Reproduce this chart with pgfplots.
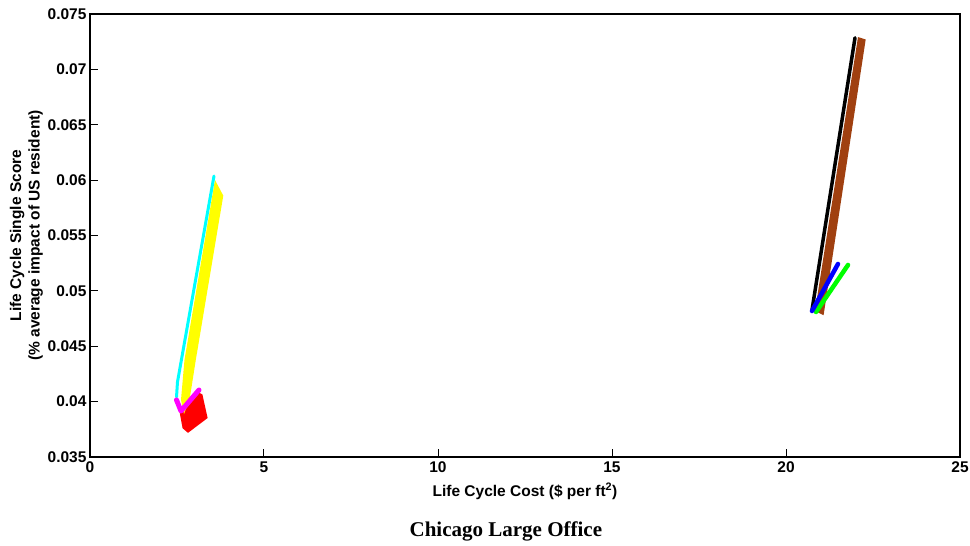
\documentclass[border=0pt]{standalone}
\usepackage{pgfplots}
\pgfplotsset{compat=1.18}
\usepackage{fontspec}
\setmainfont{Liberation Sans}
\newfontfamily\titlefont{Liberation Serif}

\definecolor{lcbrown}{RGB}{160,64,16}
\definecolor{lccyan}{RGB}{0,255,255}
\definecolor{lcyellow}{RGB}{255,255,0}
\definecolor{lcmagenta}{RGB}{255,0,255}
\definecolor{lcred}{RGB}{255,0,0}
\definecolor{lcgreen}{RGB}{0,255,0}
\definecolor{lcblue}{RGB}{0,0,255}

\begin{document}
\begin{tikzpicture}
\begin{axis}[
  at={(0,0)}, anchor=south west,
  scale only axis, width=870pt, height=443pt,
  xmin=0, xmax=25, ymin=0.035, ymax=0.075,
  xtick={0,5,10,15,20,25},
  ytick={0.035,0.04,0.045,0.05,0.055,0.06,0.065,0.07,0.075},
  yticklabels={0.035,0.04,0.045,0.05,0.055,0.06,0.065,0.07,0.075},
  scaled y ticks=false, scaled x ticks=false,
  tick pos=left, tick align=inside, major tick length=8pt,
  axis line style={line width=1.2pt},
  every tick/.style={black, line width=1pt},
  /pgf/number format/assume math mode=true,
  ticklabel style={font=\bfseries\fontsize{15.5}{18}\selectfont},
  xticklabel style={yshift=-1pt},
  label style={font=\bfseries\fontsize{15.5}{18.5}\selectfont},
  xlabel={Life Cycle Cost (\$ per ft\textsuperscript{2})},
  xlabel style={yshift=-4pt},
  ylabel={Life Cycle Single Score\\(\% average impact of US resident)},
  ylabel style={align=center, yshift=-2pt},
  clip=false,
]
% low-cost group
\addplot[fill=lcred, draw=none] coordinates {
  (2.560,0.03930) (2.660,0.03760) (2.816,0.03718) (3.380,0.03852)
  (3.230,0.04065) (3.103,0.04085) (2.560,0.03930)};
\addplot[fill=lcyellow, draw=none] coordinates {
  (3.592,0.06001) (3.83,0.05860) (3.04,0.04376) (2.86,0.04015)
  (2.701,0.03888) (2.615,0.04015) (2.715,0.04376) (3.592,0.06001)};
\addplot[lccyan, line width=3pt, line cap=round, line join=round] coordinates {
  (2.486,0.04042) (2.514,0.04177) (3.563,0.06037)};
\addplot[lcmagenta, line width=5pt, line cap=round, line join=round] coordinates {
  (2.486,0.04015) (2.615,0.03915) (3.132,0.04105)};
% high-cost group
\addplot[fill=lcbrown, draw=none] coordinates {
  (20.833,0.04818) (21.08,0.04780) (22.29,0.07270) (22.069,0.07292) (20.833,0.04818)};
\addplot[black, line width=3.5pt, line cap=round] coordinates {
  (20.747,0.04827) (21.983,0.07285)};
\addplot[lcgreen, line width=4.5pt, line cap=round] coordinates {
  (20.862,0.04809) (21.782,0.05234)};
\addplot[lcblue, line width=4.5pt, line cap=round] coordinates {
  (20.747,0.04818) (21.494,0.05243)};
\node[font=\titlefont\bfseries\fontsize{21}{24}\selectfont]
  at (axis description cs:0.478,-0.168) {Chicago Large Office};
\end{axis}
\pgfresetboundingbox
\path[use as bounding box] (-90pt,-89pt) rectangle (880pt,457pt);
\end{tikzpicture}
\end{document}
